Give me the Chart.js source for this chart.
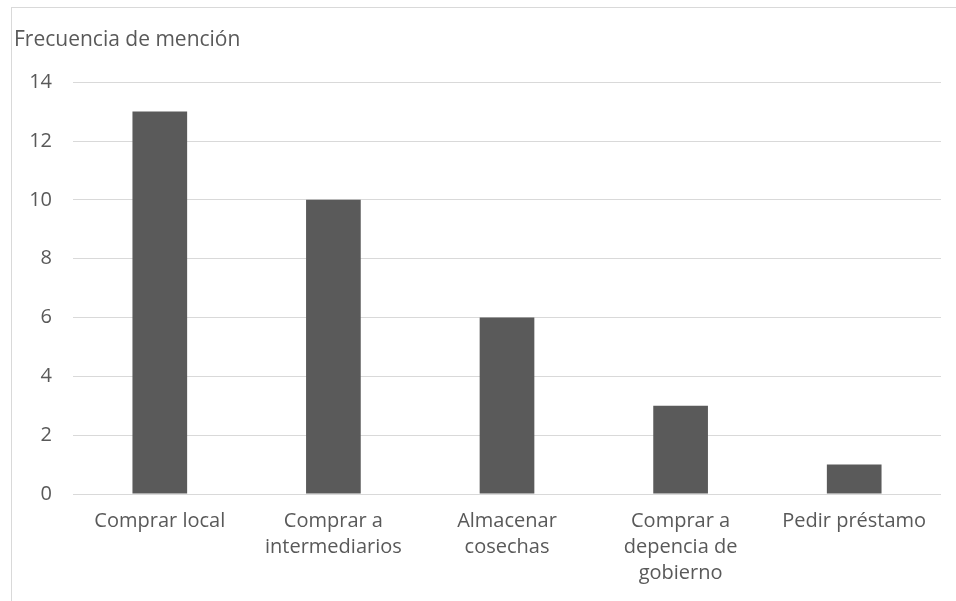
<!DOCTYPE html>
<html>
<head>
<meta charset="utf-8">
<script src="https://cdn.jsdelivr.net/npm/chart.js@4/dist/chart.umd.min.js"></script>
<style>
  html, body { margin: 0; padding: 0; background: #ffffff; }
  #wrap { position: relative; width: 956px; height: 601px; overflow: hidden; }
  #frame { position: absolute; left: 11px; top: 7px; width: 960px; height: 600px;
           border-top: 1px solid #d9d9d9; border-left: 1px solid #d9d9d9; }
  canvas { position: absolute; left: 0; top: 0; }
</style>
</head>
<body>
<div id="wrap">
  <div id="frame"></div>
  <canvas id="chart" width="956" height="601"></canvas>
</div>
<script>
// Acciones mencionadas y cuántas veces se citó cada una
const categories = [
  'Comprar local',
  ['Comprar a', 'intermediarios'],
  ['Almacenar', 'cosechas'],
  ['Comprar a', 'depencia de', 'gobierno'],
  'Pedir préstamo'
];
const mentions = [13, 10, 6, 3, 1];
const yTicks = [0, 2, 4, 6, 8, 10, 12, 14];

const textColor = '#595959';
const gridColor = '#d9d9d9';
const fontFamily = '"Open Sans", "Noto Sans", sans-serif';
const fontSize = 20;

new Chart(document.getElementById('chart'), {
  type: 'bar',
  data: {
    labels: categories,
    datasets: [{
      data: mentions,
      backgroundColor: '#5a5a5a',
      borderWidth: 0,
      barPercentage: 0.315,
      categoryPercentage: 1
    }]
  },
  options: {
    responsive: false,
    animation: false,
    layout: { padding: { left: 14, right: 15, top: 0, bottom: 0 } },
    plugins: {
      legend: { display: false },
      tooltip: { enabled: false },
      title: {
        display: true,
        text: 'Frecuencia de mención',
        align: 'start',
        color: textColor,
        font: { family: fontFamily, size: 21, weight: 'normal', lineHeight: 1.2 },
        padding: { top: 27, bottom: 30 }
      }
    },
    scales: {
      x: {
        grid: { display: false, drawTicks: false },
        border: { display: false },
        ticks: {
          color: textColor,
          font: { family: fontFamily, size: fontSize, lineHeight: 1.3 },
          padding: 14,
          maxRotation: 0,
          autoSkip: false
        },
        afterFit: (scale) => { scale.height = 107; }
      },
      y: {
        min: 0,
        max: 14,
        afterBuildTicks: (scale) => { scale.ticks = yTicks.map(v => ({ value: v })); },
        grid: { color: gridColor, lineWidth: 1, drawTicks: false },
        border: { display: false },
        ticks: {
          color: textColor,
          font: { family: fontFamily, size: fontSize },
          padding: 21
        },
        afterFit: (scale) => { scale.width = 59; }
      }
    }
  }
});
</script>
</body>
</html>
